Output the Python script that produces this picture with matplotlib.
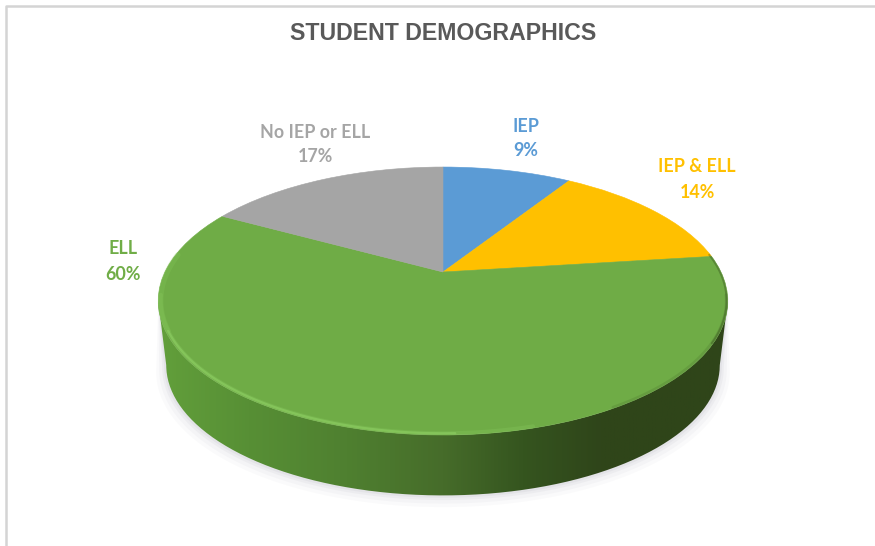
import numpy as np
import matplotlib
matplotlib.use('Agg')
import matplotlib.pyplot as plt
from matplotlib.colors import LinearSegmentedColormap
from matplotlib.patches import PathPatch
from matplotlib.path import Path
from matplotlib.transforms import Transform

# data
categories = ['IEP', 'IEP & ELL', 'ELL', 'No IEP or ELL']
shares = [9, 14, 60, 17]
colors = ['#5b9bd5', '#ffc000', '#6fac46', '#a5a5a5']
label_xy = [(526, 138), (697, 179), (123, 261), (315, 144)]

# pie apex in pixels and the squash of the tilted disc
CX, CY = 443, 272
PERSP = .2164
SX, SY = 278, 127.7
DEPTH = 65


class Tilt(Transform):
    """Unit disc -> tilted disc in picture pixels."""
    input_dims = 2
    output_dims = 2

    def __init__(self, drop=0, scale=1.):
        super().__init__()
        self.drop = drop
        self.scale = scale

    def transform_non_affine(self, xy):
        xy = np.asarray(xy, dtype=float)
        w = 1 + PERSP*xy[:, 1]
        return np.column_stack((CX + self.scale*SX*xy[:, 0]/w,
                                CY + self.drop - self.scale*SY*xy[:, 1]/w))


def arc(a1, a2, r=1.):
    t = np.radians(np.arange(a1, a2 + .5, 1.))
    return np.column_stack((r*np.cos(t), r*np.sin(t)))


fig = plt.figure(figsize=(8.75, 5.46), dpi=100, facecolor='white')
ax = fig.add_axes([0, 0, 1, 1])

# top of the disc
wedges, _ = ax.pie(shares, colors=colors, startangle=90, counterclock=False,
                   radius=1, wedgeprops={'linewidth': .4})
top = Tilt()
for w, c in zip(wedges, colors):
    w.set_edgecolor(c)
    w.set_transform(top + ax.transData)
    w.set_zorder(5)

# side wall runs between the widest points of the tilted disc
wide = np.degrees(np.arcsin(PERSP))
rim = arc(180 + wide, 360 - wide)
foot = Tilt(DEPTH, .972)
upper = top.transform(rim)
lower = foot.transform(rim)
wall = np.vstack((upper, lower[::-1]))
wall_path = Path(np.vstack((wall, wall[:1])))

# soft shadow under the wall
for grow, alpha in zip([10, 7, 4, 2], [.04, .05, .07, .09]):
    shade = Tilt(DEPTH + grow*.6, .972 + grow/285).transform(rim)
    ax.fill(np.r_[upper[:, 0], shade[::-1, 0]], np.r_[upper[:, 1], shade[::-1, 1]],
            color='#8f8f9f', alpha=alpha, lw=0, zorder=1)

side_cmap = LinearSegmentedColormap.from_list('side', [
    (0, '#629f3b'), (.16, '#578f35'), (.33, '#4f8030'), (.5, '#466c2a'),
    (.64, '#35551f'), (.78, '#2f451a'), (1, '#2f4519')])
img = ax.imshow(np.linspace(0, 1, 600)[None, :], cmap=side_cmap, aspect='auto',
                extent=(158, 728, 505, 290), zorder=2)
img.set_clip_path(PathPatch(wall_path, transform=ax.transData))

# bevel: soft highlight along the front-left of the rim
for a1, a2, col, lw, al in [(190, 285, '#8fd266', 3., .22),
                            (205, 272, '#9ade70', 1.6, .4),
                            (172, 205, '#86c95a', 4., .25)]:
    soft = top.transform(arc(a1, a2, .992))
    ax.plot(soft[:, 0], soft[:, 1], color=col, lw=lw, alpha=al, zorder=6,
            solid_capstyle='round')
# and a soft dark one around the right side
for a1, a2, lw, al in [(300, 350, 2.4, .14), (330, 368, 1.4, .35)]:
    soft = top.transform(arc(a1, a2, .996))
    ax.plot(soft[:, 0], soft[:, 1], color='#2f4519', lw=lw, alpha=al, zorder=6,
            solid_capstyle='round')

# labels
for name, share, xy, c in zip(categories, shares, label_xy, colors):
    c = '#70ad47' if name == 'ELL' else c
    ax.text(xy[0], xy[1] - 12, name, color=c, fontsize=12.9, family='Lato',
            weight='bold', ha='center', va='center', zorder=7)
    ax.text(xy[0], xy[1] + 13, '{}%'.format(share), color=c, fontsize=12.9,
            family='Lato', weight='bold', ha='center', va='center', zorder=7)

ax.text(443, 33, 'STUDENT DEMOGRAPHICS', color='#595959', fontsize=16.7,
        family='Liberation Sans', weight='bold', ha='center', va='center')

# chart frame, top and left only are in view
ax.plot([5.5, 5.5, 875], [546, 5.5, 5.5], color='#d4d4d4', lw=1.8, zorder=0)

ax.set_aspect('auto')
ax.set_xlim(0, 875)
ax.set_ylim(546, 0)
ax.axis('off')
fig.savefig('out.png', dpi=100)
